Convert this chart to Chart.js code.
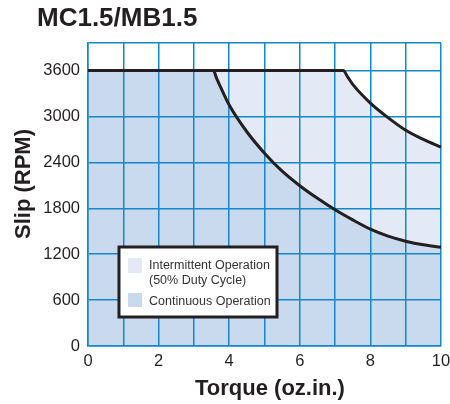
<!DOCTYPE html>
<html>
<head>
<meta charset="utf-8">
<script src="https://cdn.jsdelivr.net/npm/chart.js@4"></script>
<style>
  html, body { margin: 0; padding: 0; background: #fff; }
  #wrap { width: 450px; height: 404px; }
</style>
</head>
<body>
<div id="wrap"><canvas id="myChart" width="450" height="404"></canvas></div>
<script>
// values
var chartTitle = 'MC1.5/MB1.5';
var xTitle = 'Torque (oz.in.)';
var yTitle = 'Slip (RPM)';

var torqueContinuous = [0, 3.55, 3.65, 3.75, 4, 4.5, 5, 5.5, 6, 6.5, 7, 7.5, 8, 8.5, 9, 9.5, 10];
var slipContinuous = [3600, 3600, 3490, 3390, 3150, 2800, 2520, 2285, 2095, 1930, 1780, 1648, 1528, 1436, 1370, 1322, 1290];

var torqueIntermittent = [0, 7.23, 7.35, 7.5, 8, 8.5, 9, 9.5, 10];
var slipIntermittent = [3600, 3600, 3520, 3420, 3175, 2985, 2820, 2700, 2600];

var xTickValues = [0, 1, 2, 3, 4, 5, 6, 7, 8, 9, 10];
var xTickLabels = [0, 2, 4, 6, 8, 10];
var yTickValues = [0, 600, 1200, 1800, 2400, 3000, 3600];
var yMax = 3960;

var legendIntermittent = ['Intermittent Operation', '(50% Duty Cycle)'];
var legendContinuous = ['Continuous Operation'];

var blue = '#1387cb';
var ink = '#231f20';

function toPoints(xs, ys) {
    return xs.map(function (x, i) { return { x: x, y: ys[i] }; });
}

// title and axis titles, placed where the original has them
var titlesPlugin = {
    id: 'titles',
    afterDraw: function (chart) {
        var c = chart.ctx;
        c.save();
        c.fillStyle = ink;
        c.font = 'bold 26px "Liberation Sans", Arial, sans-serif';
        c.textAlign = 'left';
        c.textBaseline = 'alphabetic';
        c.fillText(chartTitle, 37, 26);

        c.font = 'bold 22px "Liberation Sans", Arial, sans-serif';
        c.textAlign = 'center';
        c.fillText(xTitle, 270, 395);

        c.translate(30, 184);
        c.rotate(-Math.PI / 2);
        c.fillText(yTitle, 0, 0);
        c.restore();
    }
};

// boxed legend inside the plot
var legendBoxPlugin = {
    id: 'legendBox',
    afterDraw: function (chart) {
        var c = chart.ctx, a = chart.chartArea;
        var x = a.left + 31, y = a.top + 204, w = 158, h = 70;
        var ds = chart.data.datasets;
        c.save();
        c.fillStyle = '#fff';
        c.fillRect(x, y, w, h);
        c.lineWidth = 3;
        c.strokeStyle = ink;
        c.strokeRect(x, y, w, h);

        c.font = '12.5px "Liberation Sans", Arial, sans-serif';
        c.textAlign = 'left';
        c.textBaseline = 'alphabetic';

        c.fillStyle = ds[1].backgroundColor;
        c.fillRect(x + 9, y + 11, 14, 15);
        c.fillStyle = '#333';
        ds[1].legendLines.forEach(function (t, i) {
            c.fillText(t, x + 30, y + 22 + i * 15);
        });

        c.fillStyle = ds[0].backgroundColor;
        c.fillRect(x + 9, y + 46, 14, 14);
        c.fillStyle = '#333';
        ds[0].legendLines.forEach(function (t, i) {
            c.fillText(t, x + 30, y + 58 + i * 15);
        });
        c.restore();
    }
};

var ctx = document.getElementById('myChart').getContext('2d');
var chart = new Chart(ctx, {
    type: 'line',
    data: {
        datasets: [
            {
                label: legendContinuous.join(' '),
                legendLines: legendContinuous,
                data: toPoints(torqueContinuous, slipContinuous),
                borderColor: ink,
                borderWidth: 3,
                backgroundColor: '#c9d9ee',
                fill: 'origin',
                pointRadius: 0,
                cubicInterpolationMode: 'monotone',
                clip: 4
            },
            {
                label: legendIntermittent.join(' '),
                legendLines: legendIntermittent,
                data: toPoints(torqueIntermittent, slipIntermittent),
                borderColor: ink,
                borderWidth: 3,
                backgroundColor: '#e3eaf6',
                fill: 'origin',
                pointRadius: 0,
                cubicInterpolationMode: 'monotone',
                clip: 4
            }
        ]
    },
    options: {
        responsive: false,
        animation: false,
        layout: { padding: { top: 43, right: 9, left: 0, bottom: 0 } },
        plugins: {
            legend: { display: false },
            tooltip: { enabled: false },
            filler: { drawTime: 'beforeDraw' }
        },
        scales: {
            x: {
                type: 'linear',
                min: 0,
                max: 10,
                afterBuildTicks: function (s) {
                    s.ticks = xTickValues.map(function (v) { return { value: v }; });
                },
                afterFit: function (s) {
                    s.height = 58;
                    s.paddingRight = 0;
                    s.paddingLeft = 0;
                },
                ticks: {
                    padding: 6,
                    color: ink,
                    maxRotation: 0,
                    autoSkip: false,
                    font: { family: '"Liberation Sans", Arial, sans-serif', size: 16.5 },
                    callback: function (v) { return xTickLabels.indexOf(v) >= 0 ? String(v) : ''; }
                },
                grid: { color: blue, lineWidth: 1.5, drawTicks: false },
                border: { color: blue, width: 1.5 }
            },
            y: {
                type: 'linear',
                min: 0,
                max: yMax,
                afterBuildTicks: function (s) {
                    s.ticks = yTickValues.concat([yMax]).map(function (v) { return { value: v }; });
                },
                afterFit: function (s) {
                    s.width = 88;
                    s.paddingTop = 0;
                    s.paddingBottom = 0;
                },
                ticks: {
                    padding: 8,
                    color: ink,
                    autoSkip: false,
                    font: { family: '"Liberation Sans", Arial, sans-serif', size: 16.5 },
                    callback: function (v) { return yTickValues.indexOf(v) >= 0 ? String(v) : ''; }
                },
                grid: { color: blue, lineWidth: 1.5, drawTicks: false },
                border: { color: blue, width: 1.5 }
            }
        }
    },
    plugins: [titlesPlugin, legendBoxPlugin]
});
</script>
</body>
</html>
